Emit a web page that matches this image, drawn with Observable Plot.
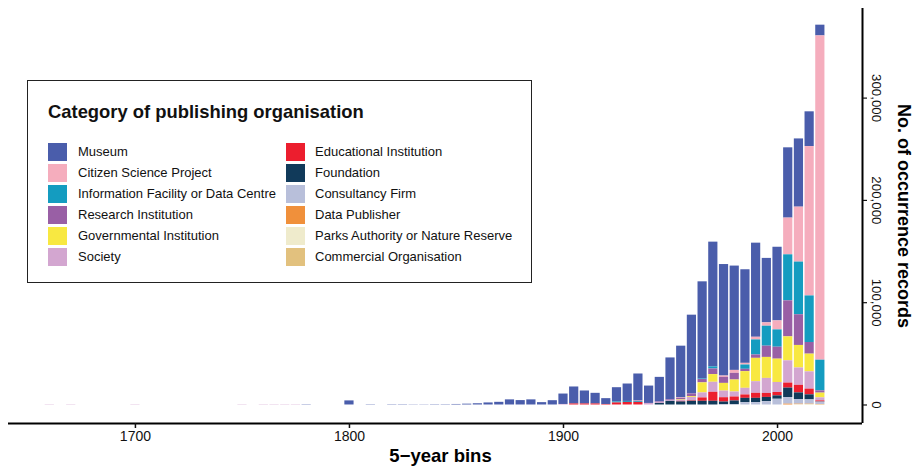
<!DOCTYPE html>
<html>
<head>
<meta charset="utf-8">
<script src="https://cdn.jsdelivr.net/npm/d3@7"></script>
<script src="https://cdn.jsdelivr.net/npm/@observablehq/plot@0.6"></script>
<style>
  html, body { margin: 0; padding: 0; background: #fff; }
  body { font-family: "Liberation Sans", Arial, Helvetica, sans-serif; }
  #wrap { position: relative; width: 916px; height: 470px; }
  #legend { position: absolute; left: 27px; top: 80px; width: 505px; height: 203px;
            border: 1.4px solid #222; background: #fff; box-sizing: border-box; }
  .lt { position: absolute; font-weight: bold; font-size: 18.4px; line-height: 18px; color: #111; white-space: nowrap; }
  .sw { position: absolute; width: 19px; height: 18px; }
  .li { position: absolute; font-size: 13px; line-height: 18px; color: #111; white-space: nowrap; }
</style>
</head>
<body>
<div id="wrap"></div>
<script>
// ---- categories (legend order) and colours ----
const categories = [
  "Museum", "Citizen Science Project", "Information Facility or Data Centre",
  "Research Institution", "Governmental Institution", "Society",
  "Educational Institution", "Foundation", "Consultancy Firm",
  "Data Publisher", "Parks Authority or Nature Reserve", "Commercial Organisation"
];
const colors = [
  "#4A5DAB", "#F5ADBD", "#149CC0", "#995FA5", "#F8E841", "#D3A6D0",
  "#EC1E2E", "#113A5A", "#B8BFDA", "#F0903B", "#EFEBCC", "#E2C17E"
];

// ---- early 5-year bins (almost only Museum) ----
const earlyYears = [1660,1670,1700,1750,1760,1765,1770,1775,1780,1800,1810,1820,1825,1830,1835,1840,1845,
  1850,1855,1860,1865,1870,1875,1880,1885,1890,1895,1900,1905,1910,1915,1920];
const earlyMuseum = [0,0,0,0,0,0,0,0,300,4000,300,300,300,200,200,300,300,
  500,800,1200,2000,2600,5000,4300,5000,2300,4200,10200,16600,12700,10400,5700];
const earlySociety = [300,300,300,300,300,300,300,300,0,0,0,0,0,0,0,0,0,
  0,0,0,0,0,0,0,0,0,0,500,0,0,0,0];
const earlyEducational = [0,0,0,0,0,0,0,0,0,0,0,0,0,0,0,0,0,
  0,0,0,0,0,0,0,0,0,0,0,1000,1000,1000,500];

// ---- recent 5-year bins, one array per category ----
const recentYears = [1925,1930,1935,1940,1945,1950,1955,1960,1965,1970,1975,1980,1985,1990,1995,2000,2005,2010,2015,2020];
const museum        = [13900,17000,26500,17000,24000,41000,50500,77000,95000,122000,109000,102000,91500,92000,63000,72000,68700,66700,34000,10500];
const citizen       = [0,0,500,0,0,0,500,0,0,0,1300,2900,1600,2600,3300,8800,35900,53700,146000,317000];
const information   = [1000,1000,800,0,0,0,0,0,500,2000,0,0,4200,14700,19500,16900,45000,51500,45500,30000];
const research      = [0,0,0,0,500,1000,1500,2600,3300,5500,5900,6500,2300,3300,11000,11700,35200,30000,11400,2200];
const governmental  = [0,0,0,0,0,0,500,800,9800,7500,7500,11700,16300,22800,20500,22800,23400,22000,17300,4600];
const society       = [0,0,0,1500,1000,500,1000,3300,4900,9800,6500,4900,6500,11400,14700,9800,21800,17000,16900,3000];
const educational   = [2000,2500,2500,0,0,0,500,500,3300,8800,4200,3900,3300,4900,3900,3300,4900,7400,5600,1000];
const foundation    = [0,0,0,0,1500,3500,3000,3600,3600,3600,2600,3600,4200,4200,4200,3300,9200,6500,4900,300];
const consultancy   = [0,0,0,0,0,0,0,0,0,0,300,300,2300,2300,3200,5600,6500,4500,4200,2200];
const dataPublisher = [0,0,0,0,0,0,0,0,0,0,0,0,0,0,0,0,800,500,300,300];
const parks         = [0,0,0,0,0,0,0,0,0,0,0,0,0,0,0,0,0,300,300,0];
const commercial    = [0,0,0,0,0,0,0,0,0,0,0,0,0,0,0,0,0,0,200,200];

const yTicks = [0, 100000, 200000, 300000];
const xTicks = [1700, 1800, 1900, 2000];

// ---- build table ----
const rows = [];
earlyYears.forEach((y, i) => {
  rows.push({year: y, cat: "Museum", value: earlyMuseum[i]});
  rows.push({year: y, cat: "Society", value: earlySociety[i]});
  rows.push({year: y, cat: "Educational Institution", value: earlyEducational[i]});
});
const recentSeries = [museum, citizen, information, research, governmental, society,
  educational, foundation, consultancy, dataPublisher, parks, commercial];
recentYears.forEach((y, i) => {
  categories.forEach((c, k) => rows.push({year: y, cat: c, value: recentSeries[k][i]}));
});
const data = rows.filter(d => d.value > 0);
const stackOrder = categories.slice().reverse();

const xDomain = [1640.7, 2039.7];
const yDomain = [-18100, 387600];

const chart = Plot.plot({
  width: 916,
  height: 470,
  marginLeft: 8,
  marginRight: 54,
  marginTop: 8,
  marginBottom: 47,
  style: {fontFamily: '"Liberation Sans", Arial, sans-serif', fontSize: "13px", color: "#111", background: "#fff"},
  x: {domain: xDomain},
  y: {domain: yDomain},
  color: {domain: categories, range: colors},
  marks: [
    Plot.rectY(data, Plot.stackY({
      x1: d => d.year - 2.15,
      x2: d => d.year + 2.15,
      y: "value",
      fill: "cat",
      order: stackOrder
    })),
    Plot.ruleY([yDomain[0]], {stroke: "#000", strokeWidth: 2}),
    Plot.ruleX([xDomain[1]], {stroke: "#000", strokeWidth: 2}),
    Plot.axisX({ticks: xTicks, tickSize: 5, tickPadding: 3, strokeWidth: 1.5, fontSize: 14,
      tickFormat: d3.format("d"), label: null}),
    Plot.axisY({anchor: "right", ticks: yTicks, tickSize: 4, strokeWidth: 1.2,
      tickFormat: () => "", label: null}),
    Plot.text(yTicks, {y: d => d, text: d => d3.format(",")(d), frameAnchor: "right",
      dx: 14, rotate: 90, fontSize: 13.3, textAnchor: "middle", lineAnchor: "middle", fill: "#111"}),
    Plot.text(["5\u2212year bins"], {frameAnchor: "bottom", dx: 5, dy: 38,
      fontWeight: "bold", fontSize: 18.5, fill: "#000"}),
    Plot.text(["No. of occurrence records"], {frameAnchor: "right", dx: 41, rotate: 90,
      fontWeight: "bold", fontSize: 18, fill: "#000", textAnchor: "middle", lineAnchor: "middle"})
  ]
});

const wrap = document.getElementById("wrap");
wrap.appendChild(chart);

// ---- legend (HTML overlay) ----
const lg = document.createElement("div");
lg.id = "legend";
wrap.appendChild(lg);
const ox = 27, oy = 80;
const title = document.createElement("div");
title.className = "lt";
title.textContent = "Category of publishing organisation";
title.style.left = (47 - ox) + "px";
title.style.top = (102 - oy) + "px";
lg.appendChild(title);
categories.forEach((c, i) => {
  const col = Math.floor(i / 6), row = i % 6;
  const sx = col === 0 ? 47 : 285;
  const tx = col === 0 ? 77 : 314;
  const top = 142 + row * 21;
  const sw = document.createElement("div");
  sw.className = "sw";
  sw.style.left = (sx - ox) + "px";
  sw.style.top = (top - oy) + "px";
  sw.style.background = colors[i];
  lg.appendChild(sw);
  const t = document.createElement("div");
  t.className = "li";
  t.style.left = (tx - ox) + "px";
  t.style.top = (top - oy) + "px";
  t.textContent = c;
  lg.appendChild(t);
});
</script>
</body>
</html>
